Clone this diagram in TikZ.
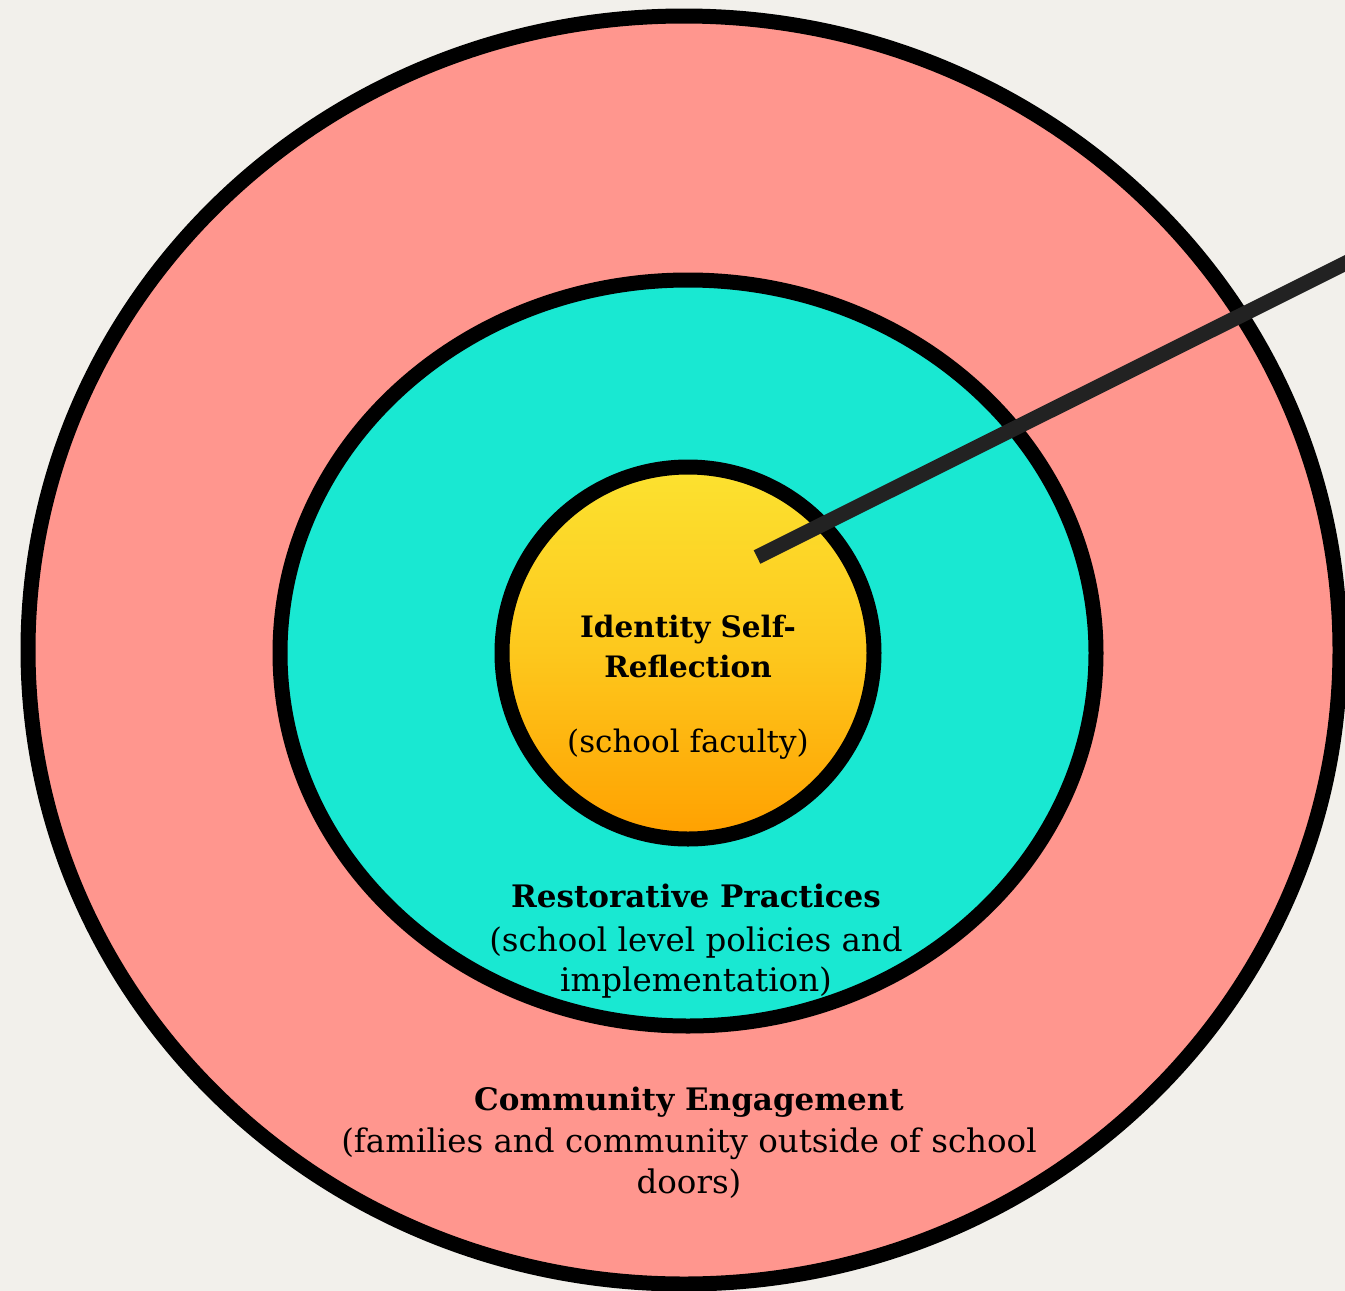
\documentclass[tikz,border=0pt]{standalone}
\usepackage{fontspec}
\setmainfont{DejaVu Serif}
\definecolor{paper}{HTML}{F2F0EB}
\definecolor{ringpink}{HTML}{FF968E}
\definecolor{ringteal}{HTML}{19E8D2}
\definecolor{coretop}{HTML}{FCE230}
\definecolor{corebot}{HTML}{FFA000}
\definecolor{pointer}{HTML}{222222}
\tikzset{
  ring/.style={draw=black, line width=15pt},
  lbl/.style={anchor=base, inner sep=0pt, text=black},
  boldlbl/.style={lbl, font=\bfseries\fontsize{31}{36}\selectfont},
  plainlbl/.style={lbl, font=\fontsize{32.5}{36}\selectfont},
  coreboldlbl/.style={lbl, font=\bfseries\fontsize{29.5}{36}\selectfont},
  coreplainlbl/.style={lbl, font=\fontsize{31}{36}\selectfont},
}
\begin{document}
\begin{tikzpicture}[x=1pt,y=-1pt]
\useasboundingbox (0,0) rectangle (1345,1291);
\clip (0,0) rectangle (1345,1291);
\fill[paper] (0,0) rectangle (1345,1291);
% rings
\draw[ring, fill=ringpink] (684,650) ellipse [x radius=656pt, y radius=634pt];
\draw[ring, fill=ringteal] (688,653) ellipse [x radius=408pt, y radius=373pt];
\shade[top color=coretop, bottom color=corebot, middle color=coretop!60!corebot] (688,653) circle [radius=186pt];
\draw[ring] (688,653) circle [radius=186pt];
% pointer
\coordinate (pstart) at (757,557);
\coordinate (pend) at (1400,236);
\draw[pointer, line width=15pt] (pstart) -- (pend);
% labels
\node[coreboldlbl] (core1) at (688,637) {Identity Self-};
\node[coreboldlbl] (core2) at (688,677) {Reflection};
\node[coreplainlbl] (core3) at (688,752) {(school faculty)};
\node[boldlbl] (mid1) at (696,907) {Restorative Practices};
\node[plainlbl] (mid2) at (696,951) {(school level policies and};
\node[plainlbl] (mid3) at (696,991) {implementation)};
\node[boldlbl] (out1) at (689,1110) {Community Engagement};
\node[plainlbl] (out2) at (689,1152) {(families and community outside of school};
\node[plainlbl] (out3) at (689,1193) {doors)};
\end{tikzpicture}
\end{document}
